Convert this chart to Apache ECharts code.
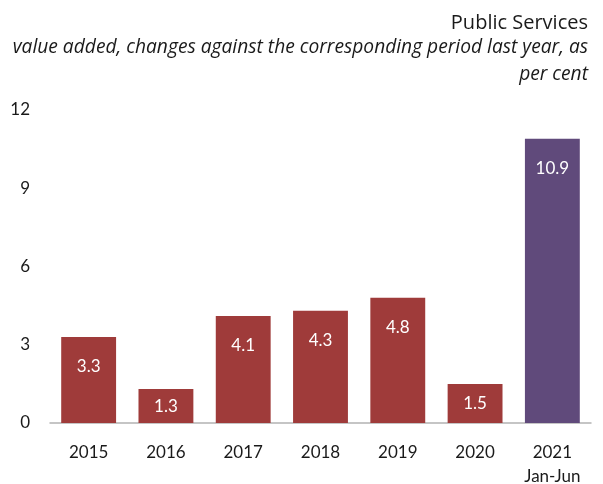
<!DOCTYPE html>
<html><head><meta charset="utf-8">
<script src="https://cdn.jsdelivr.net/npm/echarts@6/dist/echarts.min.js"></script>
<style>html,body{margin:0;padding:0;background:#fff}#c{width:603px;height:484px}</style>
</head><body><div id="c"></div>
<script>
const categories = ['2015','2016','2017','2018','2019','2020','2021\nJan-Jun'];
const values = [3.3, 1.3, 4.1, 4.3, 4.8, 1.5, 10.9];
const barColors = ['#9f3b3a','#9f3b3a','#9f3b3a','#9f3b3a','#9f3b3a','#9f3b3a','#604a7b'];
const yTicks = [0, 3, 6, 9, 12];
const titleText = 'Public Services';
const subtitleLines = ['value added, changes against the corresponding period last year, as', 'per cent'];

const font = 'Lato';
const tfont = 'Open Sans';
const chart = echarts.init(document.getElementById('c'));
chart.setOption({
  animation: false,
  graphic: [
    {type: 'text', right: 15, top: 13, style: {text: titleText, fontFamily: tfont, fontSize: 20, fill: '#1a1a1a'}},
    {type: 'text', right: 15, top: 38, style: {text: subtitleLines[0], fontFamily: tfont, fontSize: 19.2, fontStyle: 'italic', fill: '#1a1a1a'}},
    {type: 'text', right: 15, top: 65, style: {text: subtitleLines[1], fontFamily: tfont, fontSize: 19.2, fontStyle: 'italic', fill: '#1a1a1a'}}
  ],
  grid: {left: 50, right: 12, top: 110, bottom: 61, outerBoundsMode: 'none', containLabel: false},
  xAxis: {
    type: 'category', data: categories,
    axisLine: {lineStyle: {color: '#b3b3b3', width: 1.5}},
    axisTick: {show: false},
    axisLabel: {fontFamily: font, fontSize: 17, color: '#1a1a1a', margin: 18, lineHeight: 24}
  },
  yAxis: {
    type: 'value', min: yTicks[0], max: yTicks[yTicks.length-1], interval: 3,
    axisLine: {show: false}, axisTick: {show: false}, splitLine: {show: false},
    axisLabel: {fontFamily: font, fontSize: 17, color: '#1a1a1a', margin: 20}
  },
  series: [{
    type: 'bar', barWidth: '71%',
    data: values.map((v, i) => ({value: v, itemStyle: {color: barColors[i]},
      label: v < 2 ? {position: 'inside'} : {}})),
    label: {show: true, position: 'insideTop', distance: 21, fontFamily: font, fontSize: 17, color: '#fff'}
  }]
});
</script></body></html>
